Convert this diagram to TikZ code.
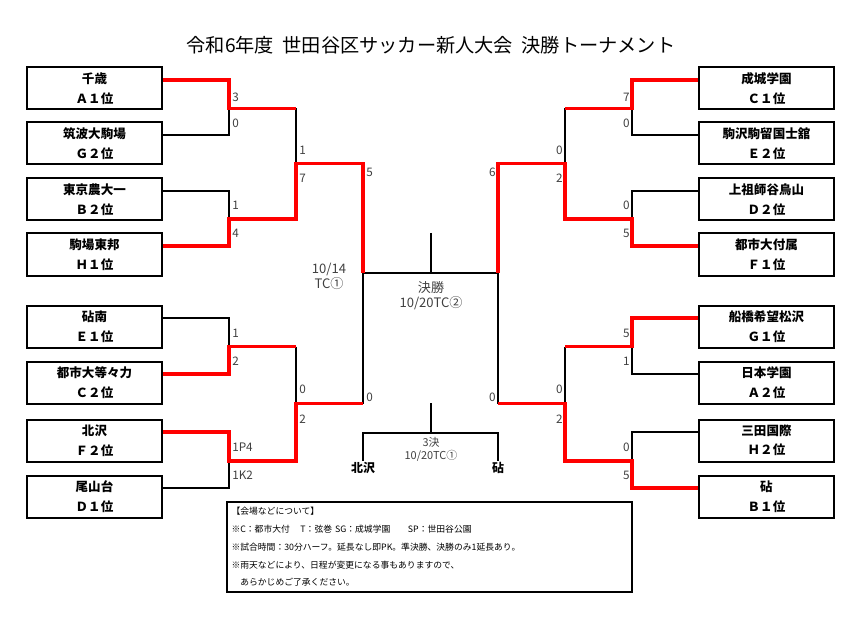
\documentclass[tikz,border=0pt]{standalone}
\usepackage{fontspec}
\setmainfont{Noto Sans CJK JP}
\definecolor{redline}{RGB}{255,0,0}
\definecolor{scoregray}{RGB}{64,64,64}

\begin{document}
\begin{tikzpicture}[x=0.75pt,y=0.75pt,yscale=-1,xscale=1,
  team/.style={draw, line width=1.5pt, minimum width=101.25pt, minimum height=31.5pt, inner sep=0pt, align=center, font=\fontsize{9.4}{14.6}\selectfont\bfseries},
  lose/.style={line width=1.35pt},
  win/.style={draw=redline, line width=2.4pt},
  score/.style={inner sep=0.75pt, text=scoregray, font=\fontsize{8.8}{10}\selectfont},
  date/.style={inner sep=0.75pt, text=scoregray, align=center, font=\fontsize{9.8}{11.2}\selectfont},
  third/.style={inner sep=0.75pt, font=\fontsize{9}{10}\selectfont\bfseries},
  notebox/.style={draw, line width=2pt, minimum width=303.75pt, minimum height=67.5pt, text width=297pt, inner xsep=3pt, inner ysep=0pt, align=left, font=\fontsize{6.6}{13.3}\selectfont}
]
\useasboundingbox (0,0) rectangle (863,620);

% Text Node
\node (title) at (431,45) {\fontsize{14.4}{16}\selectfont 令和6年度\hspace{0.45em}世田谷区サッカー新人大会\hspace{0.45em}決勝トーナメント};

%Shape: Rectangle (left teams)
\node[team] (L1) at (94.5,88.5) {千歳\\Ａ１位};
\node[team] (L2) at (94.5,143.5) {筑波大駒場\\Ｇ２位};
\node[team] (L3) at (94.5,199.5) {東京農大一\\Ｂ２位};
\node[team] (L4) at (94.5,254.5) {駒場東邦\\Ｈ１位};
\node[team] (L5) at (94.5,326.5) {砧南\\Ｅ１位};
\node[team] (L6) at (94.5,382.5) {都市大等々力\\Ｃ２位};
\node[team] (L7) at (94.5,440.5) {北沢\\Ｆ２位};
\node[team] (L8) at (94.5,496.5) {尾山台\\Ｄ１位};

%Shape: Rectangle (right teams)
\node[team] (R1) at (766.5,88.5) {成城学園\\Ｃ１位};
\node[team] (R2) at (766.5,143.5) {駒沢駒留国士舘\\Ｅ２位};
\node[team] (R3) at (766.5,199.5) {上祖師谷烏山\\Ｄ２位};
\node[team] (R4) at (766.5,254.5) {都市大付属\\Ｆ１位};
\node[team] (R5) at (766.5,326.5) {船橋希望松沢\\Ｇ１位};
\node[team] (R6) at (766.5,382.5) {日本学園\\Ａ２位};
\node[team] (R7) at (766.5,440.5) {三田国際\\Ｈ２位};
\node[team] (R8) at (766.5,496.5) {砧\\Ｂ１位};

% junctions
\coordinate (qL1) at (229,108.5);
\coordinate (qL2) at (229,219);
\coordinate (qL3) at (229,346.5);
\coordinate (qL4) at (229,461);
\coordinate (sL1) at (296,163.75);
\coordinate (sL2) at (296,403.75);
\coordinate (fL) at (363,273);
\coordinate (qR1) at (632,108.5);
\coordinate (qR2) at (632,219);
\coordinate (qR3) at (632,346.5);
\coordinate (qR4) at (632,461);
\coordinate (sR1) at (565,163.75);
\coordinate (sR2) at (565,403.75);
\coordinate (fR) at (498,273);
\coordinate (fTop) at (431,233);
\coordinate (tTop) at (431,403);
\coordinate (tL) at (363,433);
\coordinate (tR) at (498,433);

%Straight Lines (lost)
\draw[lose] (L2.7) -| (qL1);
\draw[lose] (L3.7) -| (qL2);
\draw[lose] (qL1 -| sL1) -- (sL1);
\draw[lose] (L5.7) -| (qL3);
\draw[lose] (L8.7) -| (qL4);
\draw[lose] (qL3 -| sL2) -- (sL2);
\draw[lose] (sL2 -| fL) -- (fL);
\draw[lose] (R2.173) -| (qR1);
\draw[lose] (R3.173) -| (qR2);
\draw[lose] (qR1 -| sR1) -- (sR1);
\draw[lose] (R6.173) -| (qR3);
\draw[lose] (R7.173) -| (qR4);
\draw[lose] (qR3 -| sR2) -- (sR2);
\draw[lose] (sR2 -| fR) -- (fR);
\draw[lose] (fL) -- (fR);
\draw[lose] (fTop) -- (fTop |- fL);

%Straight Lines (won)
\draw[win] (L1.7) -| (qL1) -- (qL1 -| sL1);
\draw[win] (L4.7) -| (qL2) -- (qL2 -| sL1) -- (sL1) -| (fL);
\draw[win] (L6.7) -| (qL3) -- (qL3 -| sL2);
\draw[win] (L7.7) -| (qL4) -- (qL4 -| sL2) -- (sL2) -- (sL2 -| fL);
\draw[win] (R1.173) -| (qR1) -- (qR1 -| sR1);
\draw[win] (R4.173) -| (qR2) -- (qR2 -| sR1) -- (sR1) -| (fR);
\draw[win] (R5.173) -| (qR3) -- (qR3 -| sR2);
\draw[win] (R8.173) -| (qR4) -- (qR4 -| sR2) -- (sR2) -- (sR2 -| fR);

% third place
\node[third] (thL) at (363,468) {北沢};
\node[third] (thR) at (498,468) {砧};
\draw[lose] (thL.north) |- (tR) -- (thR.north);
\draw[lose] (tTop) -- (tTop |- tL);

% Text Node (scores, left)
\node[score, anchor=west] (a1) at (231,97) {3};
\node[score, anchor=west] (a2) at (231,123) {0};
\node[score, anchor=west] (a3) at (231,205) {1};
\node[score, anchor=west] (a4) at (231,233) {4};
\node[score, anchor=west] (a5) at (231,333) {1};
\node[score, anchor=west] (a6) at (231,361) {2};
\node[score, anchor=west] (a7) at (231,447) {1P4};
\node[score, anchor=west] (a8) at (231,475) {1K2};
\node[score, anchor=west] (b1) at (298,150) {1};
\node[score, anchor=west] (b2) at (298,178) {7};
\node[score, anchor=west] (b3) at (298,389) {0};
\node[score, anchor=west] (b4) at (298,419) {2};
\node[score, anchor=west] (c1) at (365,172) {5};
\node[score, anchor=west] (c2) at (365,397) {0};

% Text Node (scores, right)
\node[score, anchor=east] (d1) at (631,97) {7};
\node[score, anchor=east] (d2) at (631,123) {0};
\node[score, anchor=east] (d3) at (631,205) {0};
\node[score, anchor=east] (d4) at (631,233) {5};
\node[score, anchor=east] (d5) at (631,333) {5};
\node[score, anchor=east] (d6) at (631,361) {1};
\node[score, anchor=east] (d7) at (631,447) {0};
\node[score, anchor=east] (d8) at (631,475) {5};
\node[score, anchor=east] (e1) at (564,150) {0};
\node[score, anchor=east] (e2) at (564,178) {2};
\node[score, anchor=east] (e3) at (564,389) {0};
\node[score, anchor=east] (e4) at (564,419) {2};
\node[score, anchor=east] (g1) at (497,172) {6};
\node[score, anchor=east] (g2) at (497,397) {0};

% Text Node (dates)
\node[date] (semiL) at (329,276) {10/14\\TC①};
\node[date] (final) at (431,295.5) {決勝\\10/20TC②};
\node[date, font=\fontsize{8.2}{9.8}\selectfont] (thirdm) at (431,449) {3決\\10/20TC①};

% Text Node (notes)
\node[notebox] (note) at (429.5,547) {【会場などについて】\\
※C：都市大付\hspace{1.2em}T：弦巻 SG：成城学園\hspace{2em}SP：世田谷公園\\
※試合時間：30分ハーフ。延長なし即PK。準決勝、決勝のみ1延長あり。\\
※雨天などにより、日程が変更になる事もありますので、\\
\hspace{1em}あらかじめご了承ください。};

\end{tikzpicture}
\end{document}
